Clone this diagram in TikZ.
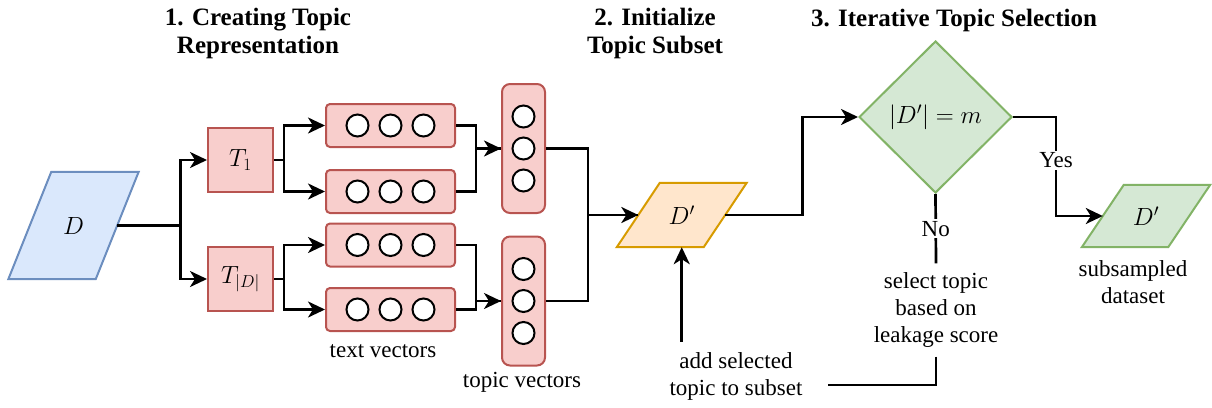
\documentclass[tikz,border=0pt]{standalone}
\usepackage[no-math]{fontspec}
\setmainfont{Liberation Serif}
\usetikzlibrary{arrows.meta,shapes.geometric,backgrounds}
\definecolor{rf}{HTML}{F8CECC}\definecolor{rd}{HTML}{B85450}
\definecolor{bf}{HTML}{DAE8FC}\definecolor{bd}{HTML}{6C8EBF}
\definecolor{of}{HTML}{FFE6CC}\definecolor{od}{HTML}{D79B00}
\definecolor{gf}{HTML}{D5E8D4}\definecolor{gd}{HTML}{82B366}
\newcommand\paradraw[4]{\begin{pgfonlayer}{background}\draw[line width=2pt,fill=#3,draw=#4] ([xshift=#2]#1.north west) -- ([xshift=#2]#1.north east) -- ([xshift=-#2]#1.south east) -- ([xshift=-#2]#1.south west) -- cycle;\end{pgfonlayer}}
\begin{document}
\begin{tikzpicture}[x=1pt,y=-1pt,
  conn/.style={line width=2.7pt},
  arr/.style={conn,-{Stealth[length=17pt,width=16pt,inset=5pt]}},
  txt/.style={font=\fontsize{23}{27}\selectfont, align=center},
  mth/.style={font=\fontsize{27}{32}\selectfont},
  ttl/.style={font=\fontsize{25}{28}\selectfont\bfseries, align=center},
  redbox/.style={draw=rd, fill=rf, line width=2pt, inner sep=0pt},
  vecbox/.style={redbox, rounded corners=4pt, minimum width=129pt, minimum height=43pt},
  topbox/.style={redbox, rounded corners=8pt, minimum width=43pt, minimum height=129pt},
  dot/.style={circle, draw, fill=white, line width=2pt, minimum size=22pt, inner sep=0pt},
  parabox/.style={mth, inner sep=0pt},
  lbl/.style={txt, fill=white, inner sep=2pt}
]
\useasboundingbox (0,0) rectangle (1212,407);

% titles
\node[ttl] (t1) at (258,33) {1. Creating Topic\\Representation};
\node[ttl] (t2) at (655,33) {2. Initialize\\Topic Subset};
\node[ttl] (t3) at (954,20) {3. Iterative Topic Selection};

% input dataset
\node[parabox, minimum width=87pt, minimum height=107pt] (D) at (73.5,225.5) {$D$};
\paradraw{D}{21.5pt}{bf}{bd}

% topic boxes
\node[redbox, mth, minimum width=65pt, minimum height=64pt] (T1) at (240.5,160) {$T_1$};
\node[redbox, mth, minimum width=65pt, minimum height=64pt] (TD) at (240.5,279) {$T_{|D|}$};

% text vectors
\node[vecbox] (v1) at (390.5,125.5) {};
\node[vecbox] (v2) at (390.5,191.5) {};
\node[vecbox] (v3) at (390.5,245) {};
\node[vecbox] (v4) at (390.5,309.5) {};
\foreach \v in {v1,v2,v3,v4}{
  \foreach \dx/\k in {-33/a,0/b,33/c}{
    \node[dot] (\v\k) at ([xshift=\dx pt]\v.center) {};
  }
}
\node[txt] (tvl) at (383,351) {text vectors};

% topic vectors
\node[topbox] (tA) at (523.5,148.5) {};
\node[topbox] (tB) at (523.5,301) {};
\foreach \v in {tA,tB}{
  \foreach \dy/\k in {-32/a,0/b,32/c}{
    \node[dot] (\v\k) at ([yshift=-\dy pt]\v.center) {};
  }
}
\node[txt] (tpl) at (522,382) {topic vectors};

% subset
\node[parabox, minimum width=86.5pt, minimum height=64pt] (Dp) at (681.75,215) {$D'$};
\paradraw{Dp}{21.5pt}{of}{od}

\node[txt] (addtext) at (736,376) {add selected\\topic to subset};

% decision
\node[diamond, draw=gd, fill=gf, line width=2pt, minimum width=153pt, minimum height=152pt, inner sep=0pt, mth] (dia) at (935.5,117) {$|D'| = m$};

\node[txt, inner sep=9pt] (sel) at (936,310) {select topic\\based on\\leakage score};

% output
\node[parabox, minimum width=86pt, minimum height=62pt] (Dg) at (1146,216) {$D'$};
\paradraw{Dg}{21pt}{gf}{gd}
\node[txt] (sub) at (1133,282) {subsampled\\dataset};

\coordinate (loopend) at (828,385);

% connectors
\draw[arr] (D.east) -- ++(63,0) |- (T1.west);
\draw[arr] (D.east) -- ++(63,0) |- (TD.west);
\draw[arr] (T1.east) -- ++(10,0) |- (v1.west);
\draw[arr] (T1.east) -- ++(10,0) |- (v2.west);
\draw[arr] (TD.east) -- ++(10,0) |- (v3.west);
\draw[arr] (TD.east) -- ++(10,0) |- (v4.west);
\draw[arr] (v1.east) -- ++(20,0) |- (tA.west);
\draw[conn] (v2.east) -- ++(20,0) |- (tA.west);
\draw[arr] (v3.east) -- ++(20,0) |- (tB.west);
\draw[conn] (v4.east) -- ++(20,0) |- (tB.west);
\draw[arr] (tA.east) -- ++(42,0) |- (Dp.west);
\draw[conn] (tB.east) -- ++(42,0) |- (Dp.west);
\draw[arr] (Dp.east) -- ++(77,0) |- (dia.west);
\draw[arr] (dia.east) -- ++(43,0) |- (Dg.west) node[lbl, pos=0.22] {Yes};
\draw[conn] (dia.south) -- (sel.north) node[lbl, midway] {No};
\draw[conn] (sel.south) |- (loopend);
\draw[arr] (addtext.north -| Dp.south) ++(0,-7) -- (Dp.south);
\end{tikzpicture}
\end{document}
